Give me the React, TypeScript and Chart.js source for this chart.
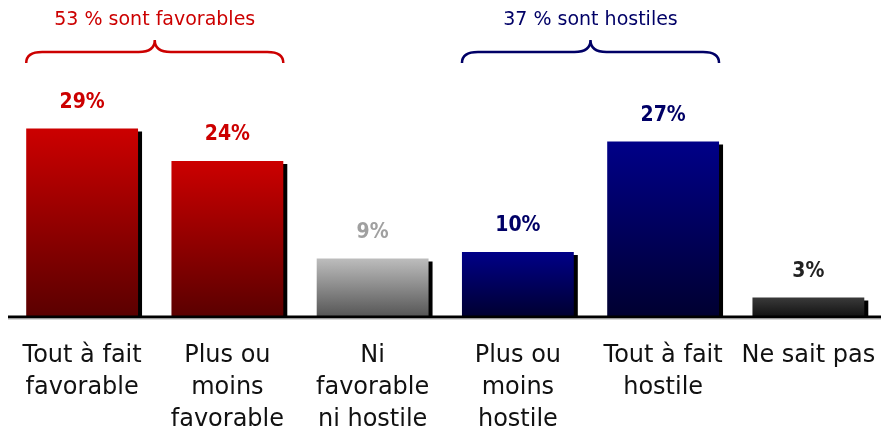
import React, { useEffect, useRef } from "react";
import { Chart, registerables } from "chart.js";

Chart.register(...registerables);

const categories: string[][] = [
  ["Tout à fait", "favorable"],
  ["Plus ou", "moins", "favorable"],
  ["Ni", "favorable", "ni hostile"],
  ["Plus ou", "moins", "hostile"],
  ["Tout à fait", "hostile"],
  ["Ne sait pas"],
];
const values: number[] = [29, 24, 9, 10, 27, 3];
const gradientTop: string[] = ["#cc0000", "#cc0000", "#bdbdbd", "#000088", "#000088", "#3a3a3a"];
const gradientBottom: string[] = ["#5a0000", "#5a0000", "#555555", "#000030", "#000030", "#111111"];
const labelColors: string[] = ["#cc0000", "#cc0000", "#a0a0a0", "#000066", "#000066", "#222222"];
const groupLabels: string[] = ["53 % sont favorables", "37 % sont hostiles"];
const groupStart: number[] = [0, 3];
const groupEnd: number[] = [1, 4];
const groupColors: string[] = ["#cc0000", "#000066"];

const FONT = "'DejaVu Sans', sans-serif";
const FONT_COND = "'DejaVu Sans Condensed', 'DejaVu Sans', sans-serif";

const decorPlugin = {
  id: "decor",
  beforeDatasetsDraw(chart: any) {
    const ctx = chart.ctx;
    const meta = chart.getDatasetMeta(0);
    ctx.save();
    ctx.fillStyle = "#000000";
    meta.data.forEach((bar: any) => {
      const w = bar.width;
      ctx.fillRect(bar.x - w / 2 + 4, bar.y + 3, w, bar.base - bar.y - 3);
    });
    ctx.restore();
  },
  afterDatasetsDraw(chart: any) {
    const ctx = chart.ctx;
    const meta = chart.getDatasetMeta(0);
    const yScale = chart.scales.y;
    const base = yScale.getPixelForValue(0);
    ctx.save();
    // axis line
    ctx.fillStyle = "#000000";
    ctx.fillRect(8, base - 1.5, chart.width - 8, 3);
    ctx.fillStyle = "#b0b0b0";
    ctx.fillRect(8, base + 1.5, chart.width - 8, 1);

    // value labels
    ctx.textAlign = "center";
    ctx.textBaseline = "middle";
    ctx.font = `bold 21px ${FONT_COND}`;
    meta.data.forEach((bar: any, i: number) => {
      ctx.fillStyle = labelColors[i];
      ctx.fillText(values[i] + "%", bar.x, bar.y - 26);
    });

    // category labels
    ctx.font = `24px ${FONT}`;
    ctx.fillStyle = "#111111";
    meta.data.forEach((bar: any, i: number) => {
      categories[i].forEach((line, j) => {
        ctx.fillText(line, bar.x, base + 39 + j * 32);
      });
    });

    // braces
    groupLabels.forEach((label, g) => {
      const b1 = meta.data[groupStart[g]];
      const b2 = meta.data[groupEnd[g]];
      const x1 = b1.x - b1.width / 2;
      const x2 = b2.x + b2.width / 2;
      const xm = (x1 + x2) / 2;
      const yEnd = 63;
      const yMid = 52;
      const yTip = 40;
      const r = 16;
      ctx.strokeStyle = groupColors[g];
      ctx.lineWidth = 2.5;
      ctx.beginPath();
      ctx.moveTo(x1, yEnd);
      ctx.quadraticCurveTo(x1, yMid, x1 + r, yMid);
      ctx.lineTo(xm - r, yMid);
      ctx.quadraticCurveTo(xm, yMid, xm, yTip);
      ctx.quadraticCurveTo(xm, yMid, xm + r, yMid);
      ctx.lineTo(x2 - r, yMid);
      ctx.quadraticCurveTo(x2, yMid, x2, yEnd);
      ctx.stroke();
      ctx.fillStyle = groupColors[g];
      ctx.font = `19px ${FONT}`;
      ctx.fillText(label, xm, 20);
    });
    ctx.restore();
  },
};

export default function App() {
  const ref = useRef<HTMLCanvasElement | null>(null);
  useEffect(() => {
    if (!ref.current) return;
    const chart = new Chart(ref.current, {
      type: "bar",
      data: {
        labels: categories.map((c) => c.join(" ")),
        datasets: [
          {
            data: values,
            backgroundColor: (context: any) => {
              const ch = context.chart;
              const i = context.dataIndex;
              if (!ch.chartArea || i === undefined) return gradientTop[i ?? 0];
              const ys = ch.scales.y;
              const top = ys.getPixelForValue(values[i]);
              const bottom = ys.getPixelForValue(0);
              const g = ch.ctx.createLinearGradient(0, top, 0, bottom);
              g.addColorStop(0, gradientTop[i]);
              g.addColorStop(1, gradientBottom[i]);
              return g;
            },
            borderWidth: 0,
            barPercentage: 0.77,
            categoryPercentage: 1,
          },
        ],
      },
      options: {
        responsive: false,
        animation: false,
        layout: { padding: { left: 9.5, right: 0, top: 57, bottom: 118 } },
        plugins: { legend: { display: false }, tooltip: { enabled: false } },
        scales: {
          x: { display: false },
          y: { display: false, min: 0, max: 40 },
        },
      },
      plugins: [decorPlugin],
    });
    return () => chart.destroy();
  }, []);
  return (
    <div style={{ position: "absolute", left: 0, top: 0, width: 881, height: 435, background: "#ffffff" }}>
      <canvas ref={ref} width={881} height={435} style={{ display: "block" }} />
    </div>
  );
}
